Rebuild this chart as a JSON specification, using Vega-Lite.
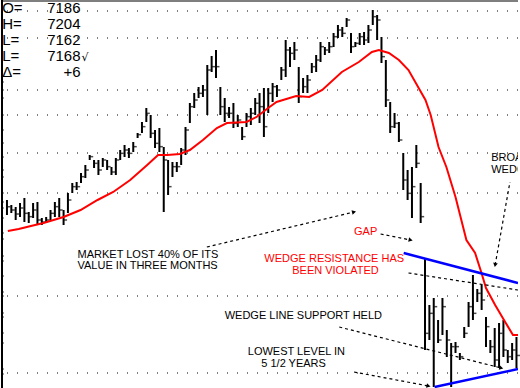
{
  "$schema": "https://vega.github.io/schema/vega-lite/v6.json",
  "width": 520,
  "height": 388,
  "autosize": {"type": "fit", "contains": "padding"},
  "padding": 0,
  "background": "white",
  "config": {"view": {"stroke": null}, "font": "Liberation Sans"},
  "datasets": {
    "frame": [{"side": "left"}],
    "grid": [{"p": 12335}, {"p": 11930}, {"p": 11150}, {"p": 10775}, {"p": 10205}, {"p": 9605}, {"p": 8060}, {"p": 6905}],
    "lticks": [{"p":11270},{"p":11150},{"p":11030},{"p":10775},{"p":10550},{"p":10355},{"p":10145},{"p":9950},{"p":9845},{"p":9605},{"p":9470},{"p":9380},{"p":9230},{"p":9005},{"p":8915},{"p":8660},{"p":8585},{"p":8360},{"p":8120},{"p":8060},{"p":7805},{"p":7745},{"p":7505},{"p":7355},{"p":6965},{"p":6890}],
    "bars": [
      {"i":0,"h":9500,"l":9275,"c":9400},{"i":1,"h":9425,"l":9305,"c":9350},{"i":2,"h":9395,"l":9200,"c":9290},{"i":3,"h":9455,"l":9245,"c":9380},
      {"i":4,"h":9530,"l":9170,"c":9300},{"i":5,"h":9320,"l":9155,"c":9250},{"i":6,"h":9455,"l":9230,"c":9350},{"i":7,"h":9470,"l":9125,"c":9200},
      {"i":8,"h":9230,"l":9125,"c":9170},{"i":9,"h":9245,"l":9155,"c":9200},{"i":10,"h":9350,"l":9200,"c":9300},{"i":11,"h":9470,"l":9245,"c":9400},
      {"i":12,"h":9530,"l":9245,"c":9350},{"i":13,"h":9350,"l":9125,"c":9200},{"i":14,"h":9605,"l":9305,"c":9500},{"i":15,"h":9755,"l":9605,"c":9700},
      {"i":16,"h":9770,"l":9650,"c":9700},{"i":17,"h":9905,"l":9755,"c":9850},{"i":18,"h":10025,"l":9830,"c":9950},{"i":19,"h":10175,"l":10100,"c":10150},
      {"i":20,"h":10100,"l":9980,"c":10050},{"i":21,"h":10100,"l":9875,"c":9950},{"i":22,"h":10130,"l":9995,"c":10100},{"i":23,"h":10100,"l":9950,"c":10000},
      {"i":24,"h":9995,"l":9875,"c":9920},{"i":25,"h":10130,"l":9875,"c":10100},{"i":26,"h":10250,"l":10100,"c":10200},{"i":27,"h":10325,"l":10145,"c":10250},
      {"i":28,"h":10280,"l":10130,"c":10200},{"i":29,"h":10370,"l":10220,"c":10300},{"i":30,"h":10505,"l":10430,"c":10480},{"i":31,"h":10670,"l":10505,"c":10600},
      {"i":32,"h":10880,"l":10670,"c":10800},{"i":33,"h":10775,"l":10430,"c":10500},{"i":34,"h":10550,"l":10280,"c":10350},{"i":35,"h":10580,"l":10220,"c":10300},
      {"i":36,"h":10295,"l":9320,"c":10100},{"i":37,"h":10100,"l":9575,"c":9700},{"i":38,"h":10070,"l":9845,"c":10000},{"i":39,"h":10070,"l":9920,"c":10000},
      {"i":40,"h":10280,"l":10025,"c":10250},{"i":41,"h":10595,"l":10175,"c":10550},{"i":42,"h":10955,"l":10655,"c":10900},{"i":43,"h":11105,"l":10880,"c":11000},
      {"i":44,"h":11195,"l":11030,"c":11100},{"i":45,"h":11225,"l":11045,"c":11150},{"i":46,"h":11525,"l":10775,"c":11450},{"i":47,"h":11660,"l":11420,"c":11500},
      {"i":48,"h":11750,"l":11330,"c":11500},{"i":49,"h":11195,"l":10775,"c":10900},{"i":50,"h":11030,"l":10670,"c":10800},{"i":51,"h":10895,"l":10730,"c":10800},
      {"i":52,"h":10955,"l":10580,"c":10650},{"i":53,"h":10775,"l":10595,"c":10700},{"i":54,"h":10595,"l":10400,"c":10450},{"i":55,"h":10805,"l":10595,"c":10750},
      {"i":56,"h":10880,"l":10625,"c":10800},{"i":57,"h":11030,"l":10775,"c":10950},{"i":58,"h":11105,"l":10655,"c":10900},{"i":59,"h":11180,"l":10445,"c":10600},
      {"i":60,"h":11180,"l":10805,"c":11100},{"i":61,"h":11255,"l":10970,"c":11200},{"i":62,"h":11225,"l":11045,"c":11150},{"i":63,"h":11495,"l":11300,"c":11450},
      {"i":64,"h":11900,"l":11345,"c":11750},{"i":65,"h":11795,"l":11495,"c":11700},{"i":66,"h":11870,"l":11600,"c":11750},{"i":67,"h":11495,"l":10955,"c":11050},
      {"i":68,"h":11330,"l":11105,"c":11200},{"i":69,"h":11375,"l":11105,"c":11300},{"i":70,"h":11555,"l":11405,"c":11500},{"i":71,"h":11675,"l":11420,"c":11600},
      {"i":72,"h":11870,"l":11570,"c":11800},{"i":73,"h":11795,"l":11675,"c":11750},{"i":74,"h":11870,"l":11705,"c":11800},{"i":75,"h":12005,"l":11795,"c":11950},
      {"i":76,"h":12125,"l":11930,"c":12050},{"i":77,"h":12095,"l":11945,"c":12000},{"i":78,"h":12230,"l":12095,"c":12200},{"i":79,"h":12005,"l":11705,"c":11800},
      {"i":80,"h":11870,"l":11795,"c":11850},{"i":81,"h":12005,"l":11825,"c":11950},{"i":82,"h":12020,"l":11825,"c":11900},{"i":83,"h":12125,"l":11855,"c":12050},
      {"i":84,"h":12350,"l":12125,"c":12250},{"i":85,"h":12275,"l":11900,"c":12200},{"i":86,"h":11945,"l":11555,"c":11650},{"i":87,"h":11600,"l":10895,"c":11000},
      {"i":88,"h":10970,"l":10505,"c":10600},{"i":89,"h":10805,"l":10580,"c":10650},{"i":90,"h":10670,"l":10370,"c":10400},{"i":91,"h":10205,"l":9650,"c":9800},
      {"i":92,"h":9950,"l":9500,"c":9600},{"i":93,"h":9995,"l":9230,"c":9700},{"i":94,"h":10325,"l":9980,"c":10050},{"i":95,"h":9755,"l":9155,"c":9250},
      {"i":96,"h":8630,"l":7250,"c":7500},{"i":97,"h":7925,"l":7400,"c":7800},{"i":98,"h":8030,"l":6695,"c":7900},{"i":99,"h":7700,"l":7355,"c":7400},
      {"i":100,"h":8030,"l":7475,"c":7900},{"i":101,"h":7550,"l":7145,"c":7400},{"i":102,"h":7355,"l":6695,"c":7300},{"i":103,"h":7370,"l":7205,"c":7300},
      {"i":104,"h":7205,"l":7100,"c":7150},{"i":105,"h":7595,"l":7430,"c":7500},{"i":106,"h":7970,"l":7595,"c":7900},{"i":107,"h":8375,"l":7700,"c":7800},
      {"i":108,"h":8165,"l":7970,"c":8100},{"i":109,"h":8225,"l":7850,"c":8000},{"i":110,"h":7745,"l":7295,"c":7600},{"i":111,"h":7400,"l":7205,"c":7300},
      {"i":112,"h":7580,"l":6995,"c":7100},{"i":113,"h":7655,"l":6980,"c":7500},{"i":114,"h":7700,"l":7145,"c":7250},{"i":115,"h":7250,"l":7055,"c":7150},
      {"i":116,"h":7355,"l":7100,"c":7250},{"i":117,"h":7445,"l":6980,"c":7168}
    ],
    "ma": [
      {"i":0.2,"p":9035},{"i":2.7,"p":9065},{"i":5.5,"p":9110},{"i":8.4,"p":9155},{"i":13,"p":9245},{"i":16.9,"p":9350},{"i":20.8,"p":9500},
      {"i":24.4,"p":9620},{"i":28.3,"p":9800},{"i":32.2,"p":10025},{"i":34.7,"p":10175},{"i":36.8,"p":10175},{"i":39.7,"p":10190},{"i":42,"p":10250},
      {"i":45,"p":10400},{"i":48.2,"p":10580},{"i":50.5,"p":10655},{"i":55,"p":10670},{"i":57.3,"p":10745},{"i":60.3,"p":10895},{"i":61.9,"p":10970},
      {"i":66.4,"p":11060},{"i":69.4,"p":11045},{"i":72.4,"p":11150},{"i":76.9,"p":11420},{"i":80.8,"p":11570},{"i":83.8,"p":11720},{"i":85.4,"p":11750},
      {"i":87.7,"p":11705},{"i":90,"p":11600},{"i":92.2,"p":11450},{"i":96.1,"p":11000},{"i":97.3,"p":10775},{"i":99.1,"p":10295},{"i":100.9,"p":9995},
      {"i":103,"p":9545},{"i":104.8,"p":9080},{"i":105.5,"p":8900},{"i":107.5,"p":8705},{"i":108.9,"p":8420},{"i":110,"p":8180},{"i":112.1,"p":7925},
      {"i":114.4,"p":7670},{"i":116.2,"p":7475},{"i":117.35,"p":7475}
    ],
    "wedge": [
      {"g":"upper","i":91.1,"p":8705},{"g":"upper","i":117.35,"p":8255},
      {"g":"lower","i":98.2,"p":6695},{"g":"lower","i":117.35,"p":6965}
    ],
    "dash": [
      {"g":"mid","i":92.2,"p":8405},{"g":"mid","i":117.35,"p":8150},
      {"g":"held","i":76.3,"p":7595},{"g":"held","i":113.5,"p":6980},
      {"g":"low","i":79.7,"p":6920},{"g":"low","i":96.8,"p":6710},
      {"g":"lost","i":45.9,"p":8795},{"g":"lost","i":79.7,"p":9320},
      {"g":"gap","i":85.8,"p":8990},{"g":"gap","i":92.7,"p":8900},
      {"g":"broad","i":115.5,"p":9770},{"g":"broad","i":112.1,"p":8525}
    ],
    "heads": [
      {"g":"lost","i":79.7,"p":9320},{"g":"gap","i":92.7,"p":8900},{"g":"held","i":113.5,"p":6980},
      {"g":"low","i":96.8,"p":6710},{"g":"broad","i":112.1,"p":8525}
    ],
    "notes": [
      {"i":16.2,"p":8675,"t":"MARKET LOST 40% OF ITS"},
      {"i":16.2,"p":8510,"t":"VALUE IN THREE MONTHS"},
      {"i":50,"p":7760,"t":"WEDGE LINE SUPPORT HELD"},
      {"i":55.3,"p":7220,"t":"LOWEST LEVEL IN"},
      {"i":58.4,"p":7040,"t":"5 1/2 YEARS"},
      {"i":111.2,"p":10130,"t":"BROAD"},
      {"i":111.2,"p":9950,"t":"WEDGE"}
    ],
    "rednotes": [
      {"i":79.7,"p":9020,"t":"GAP"},
      {"i":59.1,"p":8615,"t":"WEDGE RESISTANCE HAS"},
      {"i":65.5,"p":8435,"t":"BEEN VIOLATED"}
    ],
    "headL": [
      {"i":-1.1,"p":12380,"t":"O="},{"i":-1.1,"p":12140,"t":"H="},{"i":-1.1,"p":11900,"t":"L="},
      {"i":-1.1,"p":11660,"t":"L="},{"i":-1.1,"p":11420,"t":"Δ="}
    ],
    "headR": [
      {"i":16.9,"p":12380,"t":"7186"},{"i":16.9,"p":12140,"t":"7204"},{"i":16.9,"p":11900,"t":"7162"},
      {"i":16.9,"p":11660,"t":"7168"},{"i":16.9,"p":11420,"t":"+6"}
    ],
    "check": [{"i":17.1,"p":11630,"t":"√"}]
  },
  "layer": [
    {
      "data": {"name": "grid"},
      "mark": {"type": "rule", "color": "#000000", "strokeWidth": 1, "strokeDash": [1, 9]},
      "encoding": {
        "y": {"field": "p", "type": "quantitative", "scale": {"domain": [6680, 12500], "nice": false, "zero": false}, "axis": null}
      }
    },
    {
      "data": {"name": "frame"},
      "mark": {"type": "rule", "color": "#7f7f7f", "strokeWidth": 4, "clip": true},
      "encoding": {
        "y": {"datum": 12500, "type": "quantitative", "scale": {"domain": [6680, 12500], "nice": false, "zero": false}, "axis": null}
      }
    },
    {
      "data": {"name": "frame"},
      "mark": {"type": "rule", "color": "#000000", "strokeWidth": 4, "clip": true},
      "encoding": {
        "x": {"datum": -1.37, "type": "quantitative", "scale": {"domain": [-1.37, 117.35], "nice": false, "zero": false}, "axis": null},
        "y": {"datum": 6680, "type": "quantitative", "scale": {"domain": [6680, 12500], "nice": false, "zero": false}, "axis": null},
        "y2": {"datum": 12500}
      }
    },
    {
      "data": {"name": "lticks"},
      "mark": {"type": "tick", "orient": "horizontal", "color": "#000000", "size": 3, "thickness": 1, "xOffset": 1.5},
      "encoding": {
        "x": {"datum": -1.37, "type": "quantitative", "scale": {"domain": [-1.37, 117.35], "nice": false, "zero": false}, "axis": null},
        "y": {"field": "p", "type": "quantitative", "scale": {"domain": [6680, 12500], "nice": false, "zero": false}, "axis": null}
      }
    },
    {
      "data": {"name": "bars"},
      "mark": {"type": "rule", "color": "#000000", "strokeWidth": 2},
      "encoding": {
        "x": {"field": "i", "type": "quantitative", "scale": {"domain": [-1.37, 117.35], "nice": false, "zero": false}, "axis": null},
        "y": {"field": "l", "type": "quantitative", "scale": {"domain": [6680, 12500], "nice": false, "zero": false}, "axis": null},
        "y2": {"field": "h"}
      }
    },
    {
      "data": {"name": "bars"},
      "mark": {"type": "tick", "orient": "horizontal", "color": "#000000", "size": 3, "thickness": 1.5, "xOffset": 2},
      "encoding": {
        "x": {"field": "i", "type": "quantitative", "scale": {"domain": [-1.37, 117.35], "nice": false, "zero": false}, "axis": null},
        "y": {"field": "c", "type": "quantitative", "scale": {"domain": [6680, 12500], "nice": false, "zero": false}, "axis": null}
      }
    },
    {
      "data": {"name": "ma"},
      "mark": {"type": "line", "color": "#ff0000", "strokeWidth": 2, "clip": true},
      "encoding": {
        "x": {"field": "i", "type": "quantitative", "scale": {"domain": [-1.37, 117.35], "nice": false, "zero": false}, "axis": null},
        "y": {"field": "p", "type": "quantitative", "scale": {"domain": [6680, 12500], "nice": false, "zero": false}, "axis": null}
      }
    },
    {
      "data": {"name": "wedge"},
      "mark": {"type": "line", "color": "#0000ff", "strokeWidth": 2.5, "clip": true},
      "encoding": {
        "x": {"field": "i", "type": "quantitative", "scale": {"domain": [-1.37, 117.35], "nice": false, "zero": false}, "axis": null},
        "y": {"field": "p", "type": "quantitative", "scale": {"domain": [6680, 12500], "nice": false, "zero": false}, "axis": null},
        "detail": {"field": "g"}
      }
    },
    {
      "data": {"name": "dash"},
      "mark": {"type": "line", "color": "#000000", "strokeWidth": 1.2, "strokeDash": [3, 3], "clip": true},
      "encoding": {
        "x": {"field": "i", "type": "quantitative", "scale": {"domain": [-1.37, 117.35], "nice": false, "zero": false}, "axis": null},
        "y": {"field": "p", "type": "quantitative", "scale": {"domain": [6680, 12500], "nice": false, "zero": false}, "axis": null},
        "detail": {"field": "g"}
      }
    },
    {
      "data": {"name": "heads"},
      "transform": [{"filter": "datum.g === 'lost'"}],
      "mark": {"type": "point", "shape": "triangle-right", "filled": true, "color": "#000000", "size": 22, "angle": 347, "opacity": 1},
      "encoding": {
        "x": {"field": "i", "type": "quantitative", "scale": {"domain": [-1.37, 117.35], "nice": false, "zero": false}, "axis": null},
        "y": {"field": "p", "type": "quantitative", "scale": {"domain": [6680, 12500], "nice": false, "zero": false}, "axis": null}
      }
    },
    {
      "data": {"name": "heads"},
      "transform": [{"filter": "datum.g === 'gap' || datum.g === 'low' || datum.g === 'held'"}],
      "mark": {"type": "point", "shape": "triangle-right", "filled": true, "color": "#000000", "size": 22, "angle": 12, "opacity": 1},
      "encoding": {
        "x": {"field": "i", "type": "quantitative", "scale": {"domain": [-1.37, 117.35], "nice": false, "zero": false}, "axis": null},
        "y": {"field": "p", "type": "quantitative", "scale": {"domain": [6680, 12500], "nice": false, "zero": false}, "axis": null}
      }
    },
    {
      "data": {"name": "heads"},
      "transform": [{"filter": "datum.g === 'broad'"}],
      "mark": {"type": "point", "shape": "triangle-right", "filled": true, "color": "#000000", "size": 22, "angle": 100, "opacity": 1},
      "encoding": {
        "x": {"field": "i", "type": "quantitative", "scale": {"domain": [-1.37, 117.35], "nice": false, "zero": false}, "axis": null},
        "y": {"field": "p", "type": "quantitative", "scale": {"domain": [6680, 12500], "nice": false, "zero": false}, "axis": null}
      }
    },
    {
      "data": {"name": "notes"},
      "mark": {"type": "text", "align": "left", "baseline": "middle", "fontSize": 11, "color": "#000000", "clip": true},
      "encoding": {
        "x": {"field": "i", "type": "quantitative", "scale": {"domain": [-1.37, 117.35], "nice": false, "zero": false}, "axis": null},
        "y": {"field": "p", "type": "quantitative", "scale": {"domain": [6680, 12500], "nice": false, "zero": false}, "axis": null},
        "text": {"field": "t"}
      }
    },
    {
      "data": {"name": "rednotes"},
      "mark": {"type": "text", "align": "left", "baseline": "middle", "fontSize": 11, "color": "#ff0000", "clip": true},
      "encoding": {
        "x": {"field": "i", "type": "quantitative", "scale": {"domain": [-1.37, 117.35], "nice": false, "zero": false}, "axis": null},
        "y": {"field": "p", "type": "quantitative", "scale": {"domain": [6680, 12500], "nice": false, "zero": false}, "axis": null},
        "text": {"field": "t"}
      }
    },
    {
      "data": {"name": "headL"},
      "mark": {"type": "text", "align": "left", "baseline": "middle", "fontSize": 15, "color": "#000000", "clip": true},
      "encoding": {
        "x": {"field": "i", "type": "quantitative", "scale": {"domain": [-1.37, 117.35], "nice": false, "zero": false}, "axis": null},
        "y": {"field": "p", "type": "quantitative", "scale": {"domain": [6680, 12500], "nice": false, "zero": false}, "axis": null},
        "text": {"field": "t"}
      }
    },
    {
      "data": {"name": "headR"},
      "mark": {"type": "text", "align": "right", "baseline": "middle", "fontSize": 15, "color": "#000000", "clip": true},
      "encoding": {
        "x": {"field": "i", "type": "quantitative", "scale": {"domain": [-1.37, 117.35], "nice": false, "zero": false}, "axis": null},
        "y": {"field": "p", "type": "quantitative", "scale": {"domain": [6680, 12500], "nice": false, "zero": false}, "axis": null},
        "text": {"field": "t"}
      }
    },
    {
      "data": {"name": "check"},
      "mark": {"type": "text", "align": "left", "baseline": "middle", "fontSize": 11, "color": "#000000", "font": "DejaVu Sans"},
      "encoding": {
        "x": {"field": "i", "type": "quantitative", "scale": {"domain": [-1.37, 117.35], "nice": false, "zero": false}, "axis": null},
        "y": {"field": "p", "type": "quantitative", "scale": {"domain": [6680, 12500], "nice": false, "zero": false}, "axis": null},
        "text": {"field": "t"}
      }
    }
  ]
}
